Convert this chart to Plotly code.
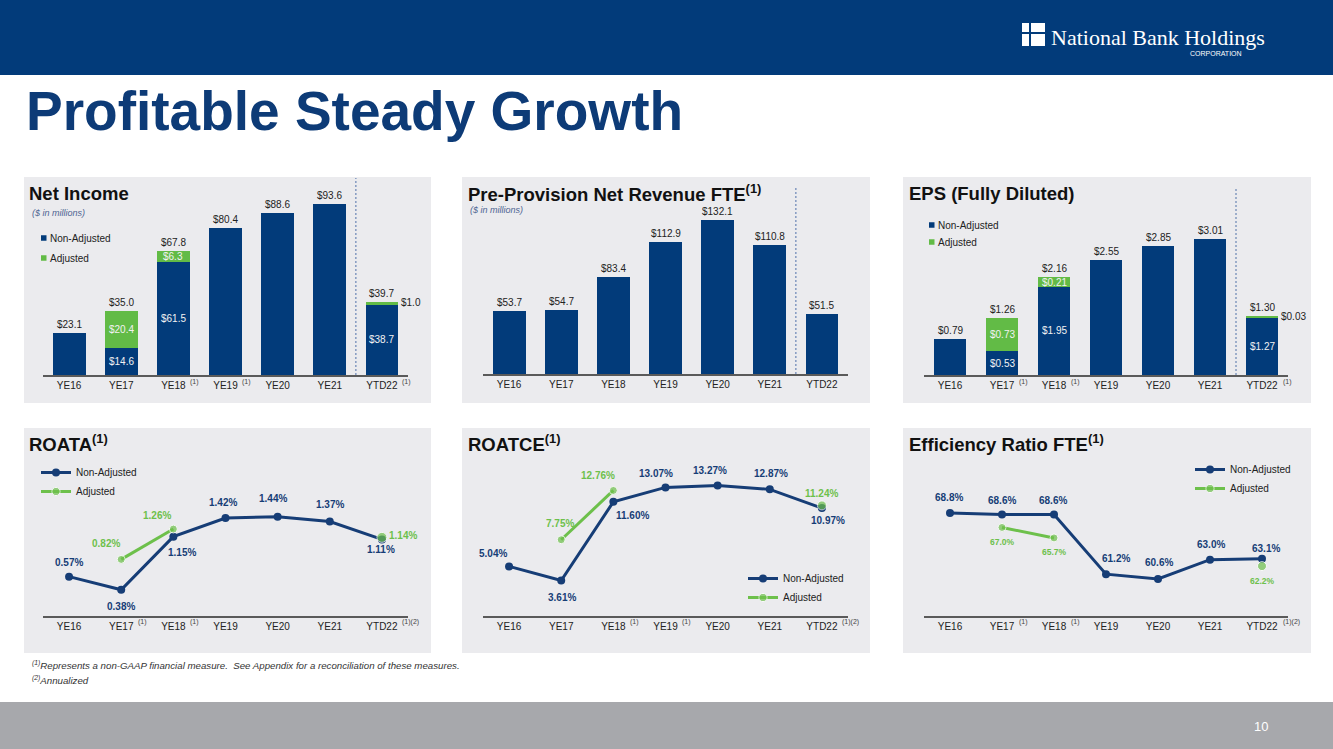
import plotly.graph_objects as go

W, H = 1333, 749


def fx(p):
    return p / W


def fy(p):
    return 1 - p / H


# ---------------- data ----------------
categories = ["YE16", "YE17", "YE18", "YE19", "YE20", "YE21", "YTD22"]

ni_non_adj = [23.1, 14.6, 61.5, 80.4, 88.6, 93.6, 38.7]
ni_adj = [None, 20.4, 6.3, None, None, None, 1.0]
ni_total = [23.1, 35.0, 67.8, 80.4, 88.6, 93.6, 39.7]

ppnr = [53.7, 54.7, 83.4, 112.9, 132.1, 110.8, 51.5]

eps_non_adj = [0.79, 0.53, 1.95, 2.55, 2.85, 3.01, 1.27]
eps_adj = [None, 0.73, 0.21, None, None, None, 0.03]
eps_total = [0.79, 1.26, 2.16, 2.55, 2.85, 3.01, 1.30]

roata_non_adj = [0.57, 0.38, 1.15, 1.42, 1.44, 1.37, 1.11]
roata_adj = [None, 0.82, 1.26, None, None, None, 1.14]

roatce_non_adj = [5.04, 3.61, 11.60, 13.07, 13.27, 12.87, 10.97]
roatce_adj = [None, 7.75, 12.76, None, None, None, 11.24]

eff_non_adj = [68.8, 68.6, 68.6, 61.2, 60.6, 63.0, 63.1]
eff_adj = [None, 67.0, 65.7, None, None, None, 62.2]

ni_notes = ["", "", "(1)", "(1)", "", "", "(1)"]
ppnr_notes = ["", "", "", "", "", "", ""]
eps_notes = ["", "(1)", "(1)", "", "", "", "(1)"]
roata_notes = ["", "(1)", "(1)", "", "", "", "(1)(2)"]
roatce_notes = ["", "", "(1)", "(1)", "", "", "(1)(2)"]
eff_notes = ["", "(1)", "(1)", "", "", "", "(1)(2)"]

# ---------------- style ----------------
FONT = "Arial, 'Liberation Sans', Helvetica, sans-serif"
NAVY = "#023B7A"
LNAVY = "#163D76"
GREEN = "#62BB46"
LGREEN = "#6DC04B"
PANEL = "#EBEBEE"
AXIS = "#5A5A5A"
TXT = "#222222"
DASH = "#6A86B5"

fig = go.Figure()
shapes = []
annotations = []
layout = {}


def ann(**kw):
    base = dict(showarrow=False, font=dict(family=FONT, size=10, color=TXT))
    if "font" in kw:
        f = dict(base["font"])
        f.update(kw.pop("font"))
        base["font"] = f
    base.update(kw)
    annotations.append(base)


def axes(n, x0, x1, ybot, ytop, yrange):
    xa = "xaxis" if n == 1 else f"xaxis{n}"
    ya = "yaxis" if n == 1 else f"yaxis{n}"
    layout[xa] = dict(
        domain=[fx(x0), fx(x1)], anchor=f"y{'' if n == 1 else n}",
        type="category", categoryorder="array", categoryarray=categories,
        range=[-0.5, 6.5], showline=True, linecolor=AXIS, linewidth=1.5,
        ticks="", showgrid=False, zeroline=False, fixedrange=True,
        tickfont=dict(family=FONT, size=10, color=TXT),
    )
    layout[ya] = dict(
        domain=[fy(ybot), fy(ytop)], anchor=f"x{'' if n == 1 else n}",
        range=yrange, visible=False, fixedrange=True,
    )


def ref(n):
    return ("x", "y") if n == 1 else (f"x{n}", f"y{n}")


def notes(n, notes_list, ylab, widths):
    xr, _ = ref(n)
    for c, t in zip(categories, notes_list):
        if t:
            ann(x=c, y=fy(ylab - 5), xref=xr, yref="paper", text=t,
                xanchor="left", yanchor="middle", xshift=widths[c] / 2 + 2,
                font=dict(size=7, color="#444444"))


LABW = {"YE16": 25, "YE17": 25, "YE18": 25, "YE19": 25, "YE20": 25, "YE21": 25, "YTD22": 33}

# ---------------- page decoration ----------------
shapes.append(dict(type="rect", xref="paper", yref="paper", x0=0, x1=1, y0=fy(75), y1=1,
                   fillcolor="#023B7A", line=dict(width=0), layer="below"))
shapes.append(dict(type="rect", xref="paper", yref="paper", x0=0, x1=1, y0=0, y1=fy(702),
                   fillcolor="#A7A8AC", line=dict(width=0), layer="below"))
# logo squares
for (a, b, c, d) in [(1022, 1029, 23, 32), (1031, 1045, 23, 32), (1022, 1029, 34, 46), (1031, 1045, 34, 46)]:
    shapes.append(dict(type="rect", xref="paper", yref="paper", x0=fx(a), x1=fx(b), y0=fy(d), y1=fy(c),
                       fillcolor="white", line=dict(width=0), layer="below"))
ann(x=fx(1049), y=fy(37), xref="paper", yref="paper", text="National Bank Holdings",
    xanchor="left", yanchor="middle", font=dict(family="'Liberation Serif', 'DejaVu Serif', serif", size=22, color="white"))
ann(x=fx(1244), y=fy(54), xref="paper", yref="paper", text="CORPORATION",
    xanchor="right", yanchor="middle", font=dict(size=7, color="white"))
ann(x=fx(24), y=fy(111), xref="paper", yref="paper", text="<b>Profitable Steady Growth</b>",
    xanchor="left", yanchor="middle", font=dict(size=55, color="#0D3B77"))
ann(x=fx(1252), y=fy(726), xref="paper", yref="paper", text="10",
    xanchor="left", yanchor="middle", font=dict(size=13, color="white"))
ann(x=fx(30), y=fy(665), xref="paper", yref="paper",
    text="<i><sup>(1)</sup>Represents a non-GAAP financial measure.  See Appendix for a reconciliation of these measures.</i>",
    xanchor="left", yanchor="middle", font=dict(size=9.7, color="#333333"))
ann(x=fx(30), y=fy(680), xref="paper", yref="paper",
    text="<i><sup>(2)</sup>Annualized</i>",
    xanchor="left", yanchor="middle", font=dict(size=9.7, color="#333333"))

# panels
for (x0, x1, y0, y1) in [(24, 431, 177, 403), (462, 870, 177, 403), (903, 1311, 177, 403),
                         (24, 431, 428, 653), (462, 870, 428, 653), (903, 1311, 428, 653)]:
    shapes.append(dict(type="rect", xref="paper", yref="paper", x0=fx(x0), x1=fx(x1), y0=fy(y1), y1=fy(y0),
                       fillcolor=PANEL, line=dict(width=0), layer="below"))

# panel titles
for (x, y, t) in [(27, 193, "Net Income"), (466, 193, "Pre-Provision Net Revenue FTE<sup>(1)</sup>"),
                  (907, 193, "EPS (Fully Diluted)"), (27, 443, "ROATA<sup>(1)</sup>"),
                  (466, 443, "ROATCE<sup>(1)</sup>"), (907, 443, "Efficiency Ratio FTE<sup>(1)</sup>")]:
    ann(x=fx(x), y=fy(y), xref="paper", yref="paper", text=f"<b>{t}</b>",
        xanchor="left", yanchor="middle", font=dict(size=18.5, color="#111111"))
for (x, y) in [(30, 213), (468, 210)]:
    ann(x=fx(x), y=fy(y), xref="paper", yref="paper", text="<i>($ in millions)</i>",
        xanchor="left", yanchor="middle", font=dict(size=9, color="#4F6592"))

# manual bar legends
for (x, y, col, t) in [(41, 238, NAVY, "Non-Adjusted"), (41, 258, GREEN, "Adjusted"),
                       (929, 225, NAVY, "Non-Adjusted"), (929, 242, GREEN, "Adjusted")]:
    shapes.append(dict(type="rect", xref="paper", yref="paper", x0=fx(x), x1=fx(x + 5.5),
                       y0=fy(y + 2.75), y1=fy(y - 2.75), fillcolor=col, line=dict(width=0)))
    ann(x=fx(x + 6.5), y=fy(y), xref="paper", yref="paper", text=t, xanchor="left", yanchor="middle",
        font=dict(size=10, color=TXT))


# ---------------- bar charts ----------------
def bar_chart(n, x0, x1, base, scale, non_adj, adj, total, fmt, notes_list, dash_top, side_shift):
    top = 180
    axes(n, x0, x1, base, top, [0, (base - top) / scale])
    xr, yr = ref(n)
    fig.add_trace(go.Bar(x=categories, y=non_adj, marker=dict(color=NAVY, line=dict(width=0)),
                         width=0.63, xaxis=xr, yaxis=yr, showlegend=False, name="Non-Adjusted",
                         hoverinfo="skip"))
    if adj is not None:
        fig.add_trace(go.Bar(x=categories, y=adj, marker=dict(color=GREEN, line=dict(width=0)),
                             width=0.63, xaxis=xr, yaxis=yr, showlegend=False, name="Adjusted",
                             hoverinfo="skip"))
    for i, c in enumerate(categories):
        ann(x=c, y=total[i], xref=xr, yref=yr, text=fmt.format(total[i]), xanchor="center",
            yanchor="bottom", yshift=1, font=dict(size=10, color=TXT))
        if adj is not None and adj[i] is not None:
            ann(x=c, y=non_adj[i] / 2, xref=xr, yref=yr, text=fmt.format(non_adj[i]),
                xanchor="center", yanchor="middle", font=dict(size=10, color="#F2F2F2"))
            if i == 6:
                ann(x=c, y=total[i], xref=xr, yref=yr, text=fmt.format(adj[i]), xanchor="left",
                    yanchor="middle", xshift=side_shift, font=dict(size=10, color=TXT))
            else:
                ann(x=c, y=non_adj[i] + adj[i] / 2, xref=xr, yref=yr, text=fmt.format(adj[i]),
                    xanchor="center", yanchor="middle", font=dict(size=10, color="#F2F2F2"))
    shapes.append(dict(type="line", xref=xr, yref="paper", x0=5.5, x1=5.5, y0=fy(base), y1=fy(dash_top),
                       line=dict(color=DASH, width=1.2, dash="2px,2px")))
    notes(n, notes_list, base + 12, LABW)


bar_chart(1, 43, 408, 375, 1.832, ni_non_adj, ni_adj, ni_total, "${:.1f}", ni_notes, 178, 17)
bar_chart(2, 483, 848, 374, 1.166, ppnr, None, ppnr, "${:.1f}", ppnr_notes, 188, 17)
bar_chart(3, 924, 1288, 375, 45.18, eps_non_adj, eps_adj, eps_total, "${:.2f}", eps_notes, 188, 17)


# ---------------- line charts ----------------
def line_chart(n, x0, x1, y0val, scale, non_adj, adj, fmt, off_na, off_a, notes_list, leg, green_size):
    base, top = 616, 455
    axes(n, x0, x1, base, top, [y0val, y0val + (base - top) / scale])
    xr, yr = ref(n)
    lname = "legend" if n == 4 else f"legend{n - 2}"
    fig.add_trace(go.Scatter(x=categories, y=non_adj, mode="lines+markers", name="Non-Adjusted",
                             line=dict(color=LNAVY, width=3), marker=dict(size=8, color=LNAVY),
                             xaxis=xr, yaxis=yr, legend=lname, hoverinfo="skip"))
    fig.add_trace(go.Scatter(x=categories, y=adj, mode="lines+markers", name="Adjusted",
                             line=dict(color=LGREEN, width=3),
                             marker=dict(size=[8, 8, 8, 8, 8, 8, green_size], color=LGREEN),
                             connectgaps=False, xaxis=xr, yaxis=yr, legend=lname, hoverinfo="skip"))
    for i, c in enumerate(categories):
        dx, dy, sz = off_na[i]
        ann(x=c, y=non_adj[i], xref=xr, yref=yr, text=f"<b>{fmt.format(non_adj[i])}%</b>",
            xanchor="center", yanchor="middle", xshift=dx, yshift=dy, font=dict(size=sz, color=LNAVY))
        if adj[i] is not None:
            dx, dy, sz = off_a[i]
            ann(x=c, y=adj[i], xref=xr, yref=yr, text=f"<b>{fmt.format(adj[i])}%</b>",
                xanchor="center", yanchor="middle", xshift=dx, yshift=dy, font=dict(size=sz, color=LGREEN))
    notes(n, notes_list, base + 11, LABW)
    lx, ly = leg
    layout[lname] = dict(x=fx(lx), y=fy(ly), xanchor="left", yanchor="top", bgcolor="rgba(0,0,0,0)",
                         font=dict(family=FONT, size=10, color=TXT), traceorder="normal",
                         itemwidth=30, tracegroupgap=0)


line_chart(4, 43, 408, 0, 69.0, roata_non_adj, roata_adj, "{:.2f}",
           [(0, 14, 10), (0, -17, 10), (9, -16, 10), (-3, 16, 10), (-5, 18, 10), (0, 17, 10), (-1, -10, 10)],
           [None, (-15, 16, 10), (-16, 14, 10), None, None, None, (21, 2, 10)],
           roata_notes, (36, 458), 10)
line_chart(5, 483, 848, 0, 9.84, roatce_non_adj, roatce_adj, "{:.2f}",
           [(-16, 13, 10), (1, -17, 10), (19, -14, 10), (-10, 14, 10), (-8, 15, 10), (1, 16, 10), (6, -12, 10)],
           [None, (-1, 16, 10), (-15, 15, 10), None, None, None, (0, 12, 10)],
           roatce_notes, (743, 564), 9)
line_chart(6, 924, 1288, 56.0, 8.05, eff_non_adj, eff_adj, "{:.1f}",
           [(-1, 15, 10), (0, 14, 10), (-1, 14, 10), (10, 16, 10), (1, 16, 10), (1, 15, 10), (4, 10, 10)],
           [None, (0, -15, 8.5), (0, -14, 8.5), None, None, None, (0, -15, 8.5)],
           eff_notes, (1190, 455), 9)

fig.update_layout(
    width=W, height=H, margin=dict(l=0, r=0, t=0, b=0),
    paper_bgcolor="white", plot_bgcolor="rgba(0,0,0,0)",
    barmode="stack", bargap=0.37,
    font=dict(family=FONT, size=10, color=TXT),
    shapes=shapes, annotations=annotations,
    **layout,
)

fig.write_html("out.html", config={"displayModeBar": False})
